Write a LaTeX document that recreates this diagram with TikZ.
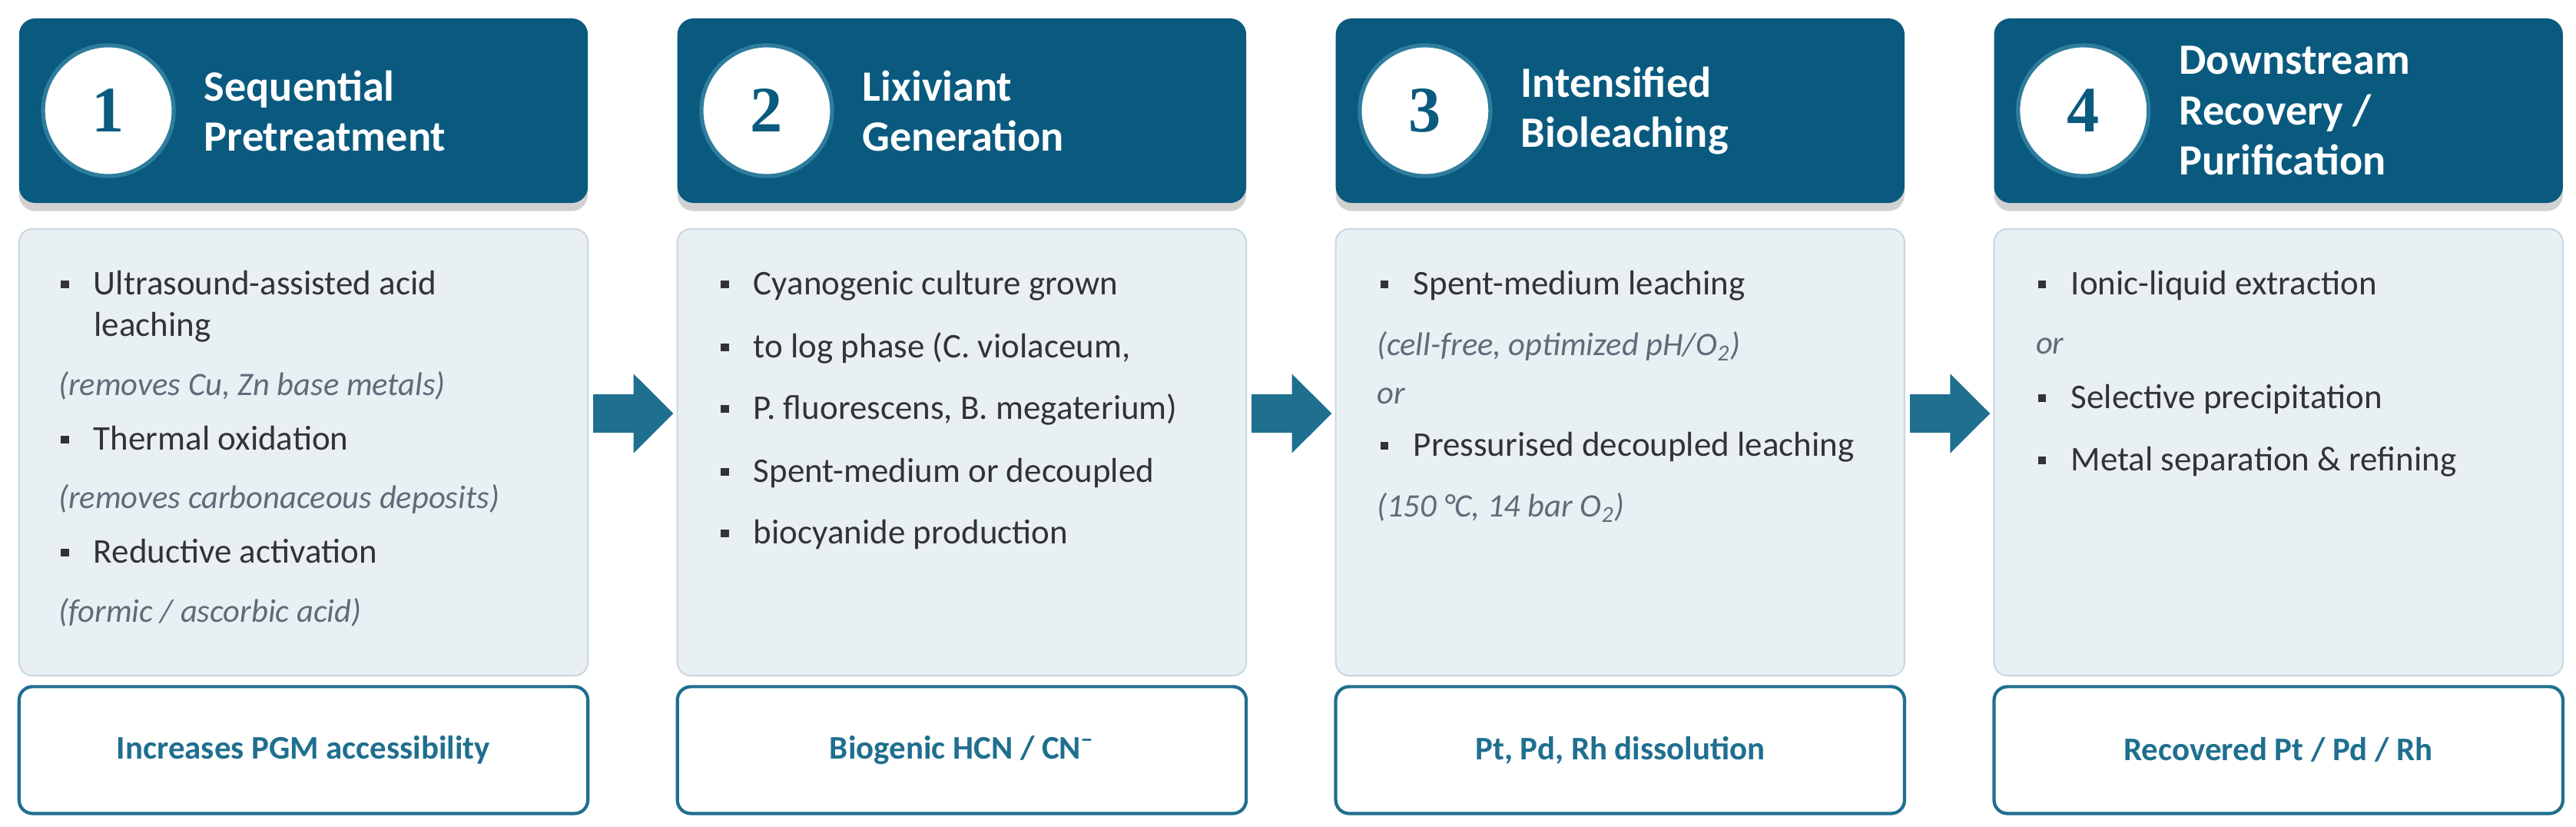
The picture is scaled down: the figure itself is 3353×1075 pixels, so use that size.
\documentclass[tikz,border=0pt]{standalone}
\usepackage{fontspec}
\setmainfont{Carlito}
\newfontfamily\numfont{Liberation Serif}
\usetikzlibrary{arrows.meta,positioning,calc,shadows}
\definecolor{hdr}{HTML}{0A5A7F}
\definecolor{teal}{HTML}{1F6F8F}
\definecolor{ring}{HTML}{2E7D9C}
\definecolor{panel}{HTML}{E9F0F4}
\definecolor{pline}{HTML}{C9D8E2}
\definecolor{ink}{HTML}{333333}
\definecolor{note}{HTML}{5F6B78}
\newcommand{\sqb}{\rule[0.2em]{2.9pt}{2.9pt}\hspace{9.2pt}}

\begin{document}
\begin{tikzpicture}[
      x=0.01cm, y=-0.01cm,
      head/.style={fill=hdr, rounded corners=6pt, minimum width=7.4cm, minimum height=2.4cm, inner sep=0pt,
        drop shadow={shadow xshift=0pt, shadow yshift=-3pt, opacity=0.18, fill=black}},
      numc/.style={circle, fill=white, draw=ring, line width=1.5pt, minimum size=1.7cm, inner sep=0pt,
        text=hdr, font=\numfont\bfseries\fontsize{24}{24}\selectfont},
      ttl/.style={anchor=west, align=left, inner sep=0pt, text=white, font=\bfseries\fontsize{16}{18.5}\selectfont},
      panelbox/.style={fill=panel, draw=pline, line width=0.6pt, rounded corners=5pt, minimum width=7.4cm, minimum height=5.81cm, inner sep=0pt},
      outbox/.style={fill=white, draw=teal, line width=1.2pt, rounded corners=5pt, minimum width=7.4cm, minimum height=1.65cm, inner sep=0pt,
        text=teal, font=\bfseries\fontsize{12.2}{14}\selectfont},
      itm/.style={anchor=base west, inner sep=0pt, text=ink, font=\fontsize{12.8}{15}\selectfont},
      nt/.style={anchor=base west, inner sep=0pt, text=note, font=\itshape\fontsize{12.1}{14}\selectfont},
      flow/.style={line width=0.5cm, draw=teal, -{Triangle[length=0.52cm, width=1.0cm]}, shorten <=0.06cm, shorten >=0.04cm}]
    \useasboundingbox (0,0) rectangle (3353,1075);
    \coordinate (mid) at (0,538);

    % headers
    \node[head] (h1) at (395,144) {};
    \node[head, right=1.15cm of h1] (h2) {};
    \node[head, right=1.15cm of h2] (h3) {};
    \node[head, right=1.15cm of h3] (h4) {};
    \node[numc] (n1) at ($(h1.west)+(117,0)$) {1};
    \node[numc] (n2) at ($(h2.west)+(117,0)$) {2};
    \node[numc] (n3) at ($(h3.west)+(117,0)$) {3};
    \node[numc] (n4) at ($(h4.west)+(117,0)$) {4};
    \node[ttl] (t1) at ($(h1.west)+(241,0)$) {Sequential\\Pretreatment};
    \node[ttl] (t2) at ($(h2.west)+(241,0)$) {Lixiviant\\Generation};
    \node[ttl] (t3) at ($(h3.west)+(241,0)$) {Intensified\\Bioleaching};
    \node[ttl] (t4) at ($(h4.west)+(241,0)$) {Downstream\\Recovery /\\Purification};

    % panels
    \node[panelbox, below=0.32cm of h1] (b1) {};
    \node[panelbox, below=0.32cm of h2] (b2) {};
    \node[panelbox, below=0.32cm of h3] (b3) {};
    \node[panelbox, below=0.32cm of h4] (b4) {};

    \node[itm] (p11) at ($(b1.north west)+(55,87)$) {\sqb Ultrasound-assisted acid};
    \node[itm] (p12) at ($(b1.north west)+(98,141)$) {leaching};
    \node[nt] (p13) at ($(b1.north west)+(52,218)$) {(removes Cu, Zn base metals)};
    \node[itm] (p14) at ($(b1.north west)+(55,289)$) {\sqb Thermal oxidation};
    \node[nt] (p15) at ($(b1.north west)+(52,365)$) {(removes carbonaceous deposits)};
    \node[itm] (p16) at ($(b1.north west)+(55,436)$) {\sqb Reductive activation};
    \node[nt] (p17) at ($(b1.north west)+(52,513)$) {(formic / ascorbic acid)};

    \node[itm] (p21) at ($(b2.north west)+(57,87)$) {\sqb Cyanogenic culture grown};
    \node[itm] (p22) at ($(b2.north west)+(57,169)$) {\sqb to log phase (C. violaceum,};
    \node[itm] (p23) at ($(b2.north west)+(57,249)$) {\sqb P. fluorescens, B. megaterium)};
    \node[itm] (p24) at ($(b2.north west)+(57,331)$) {\sqb Spent-medium or decoupled};
    \node[itm] (p25) at ($(b2.north west)+(57,411)$) {\sqb biocyanide production};

    \node[itm] (p31) at ($(b3.north west)+(59,87)$) {\sqb Spent-medium leaching};
    \node[nt] (p32) at ($(b3.north west)+(54,166)$) {(cell-free, optimized pH/O\textsubscript{2})};
    \node[nt] (p33) at ($(b3.north west)+(54,229)$) {or};
    \node[itm] (p34) at ($(b3.north west)+(59,297)$) {\sqb Pressurised decoupled leaching};
    \node[nt] (p35) at ($(b3.north west)+(54,376)$) {(150 °C, 14 bar O\textsubscript{2})};

    \node[itm] (p41) at ($(b4.north west)+(58,87)$) {\sqb Ionic-liquid extraction};
    \node[nt] (p42) at ($(b4.north west)+(55,164)$) {or};
    \node[itm] (p43) at ($(b4.north west)+(58,235)$) {\sqb Selective precipitation};
    \node[itm] (p44) at ($(b4.north west)+(58,316)$) {\sqb Metal separation \& refining};

    % outcomes
    \node[outbox, below=0.11cm of b1] (r1) {Increases PGM accessibility};
    \node[outbox, below=0.11cm of b2] (r2) {Biogenic HCN / CN\textsuperscript{−}};
    \node[outbox, below=0.11cm of b3] (r3) {Pt, Pd, Rh dissolution};
    \node[outbox, below=0.11cm of b4] (r4) {Recovered Pt / Pd / Rh};

    \foreach \a/\b in {b1/b2, b2/b3, b3/b4}
      \draw[flow] (\a.east |- mid) -- (\b.west |- mid);
  \end{tikzpicture}
\end{document}
